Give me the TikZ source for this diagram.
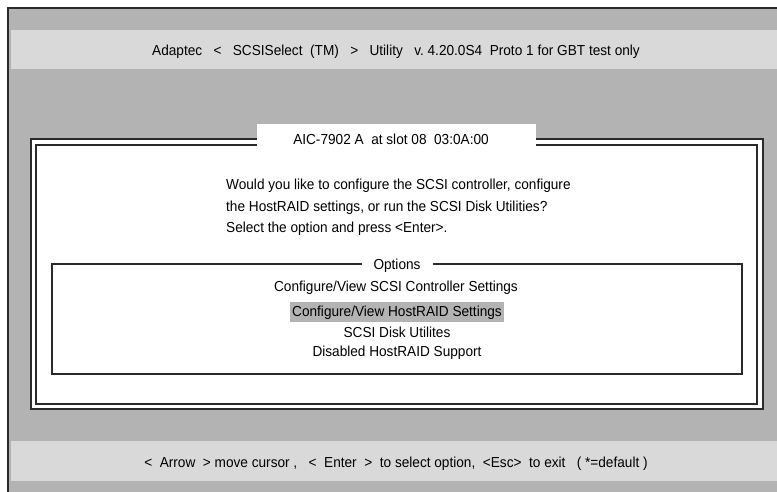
\documentclass[tikz,border=0pt]{standalone}
\usepackage{fontspec}
\setmainfont{Liberation Sans}[FakeStretch=0.94]
\definecolor{scrgray}{HTML}{B3B3B3}
\definecolor{bandgray}{HTML}{D9D9D9}
\definecolor{linedark}{HTML}{2A2A2A}
\tikzset{
  txt/.style={inner sep=0pt, font=\fontsize{14.5}{17}\selectfont, text=black, yshift=-1.5pt},
  frameline/.style={draw=linedark, line width=1.6pt},
  optline/.style={draw=linedark, line width=1.2pt},
}
\begin{document}
\begin{tikzpicture}[x=1pt, y=-1pt]
\useasboundingbox (0,0) rectangle (777,492);
\fill[white] (0,0) rectangle (777,492);
% screen background
\fill[scrgray] (8,8) rectangle (777,492);
\draw[frameline] (777,8) -- (8,8) -- (8,492);
% header and footer bands
\fill[bandgray] (11,30) rectangle (777,69);
\fill[bandgray] (11,441) rectangle (777,481);
\node[txt] (title) at (396,50) {Adaptec~~~<~~~SCSISelect~~(TM)~~~>~~~Utility~~~v.~4.20.0S4~~Proto 1 for GBT test only};
\node[txt] (footer) at (396,462) {<~~Arrow~~> move cursor ,~~~<~~Enter~~>~~to select option,~~<Esc>~~to exit~~~( *=default )};
% dialog
\fill[white] (31,139) rectangle (763,409);
\draw[frameline] (31,139) rectangle (763,409);
\draw[frameline] (36,145) rectangle (757,404);
\fill[white] (257,124) rectangle (536,147);
\node[txt] (dlgtitle) at (391,138) {AIC-7902 A~~at slot 08~~03:0A:00};
\node[txt, anchor=west] (q1) at (226,184) {Would you like to configure the SCSI controller, configure};
\node[txt, anchor=west] (q2) at (226,206) {the HostRAID settings, or run the SCSI Disk Utilities?};
\node[txt, anchor=west] (q3) at (226,227) {Select the option and press <Enter>.};
% options box
\coordinate (oleft) at (362,264);
\coordinate (oright) at (433,264);
\draw[optline] (oleft) -- (52,264) -- (52,374) -- (742,374) -- (742,264) -- (oright);
\node[txt] (opttitle) at (397,264) {Options};
\node[txt] (opt1) at (396,286) {Configure/View SCSI Controller Settings};
\fill[scrgray] (290,302) rectangle (504,322);
\node[txt] (opt2) at (397,311) {Configure/View HostRAID Settings};
\node[txt] (opt3) at (397,331) {SCSI Disk Utilites};
\node[txt] (opt4) at (397,351) {Disabled HostRAID Support};
\end{tikzpicture}
\end{document}
